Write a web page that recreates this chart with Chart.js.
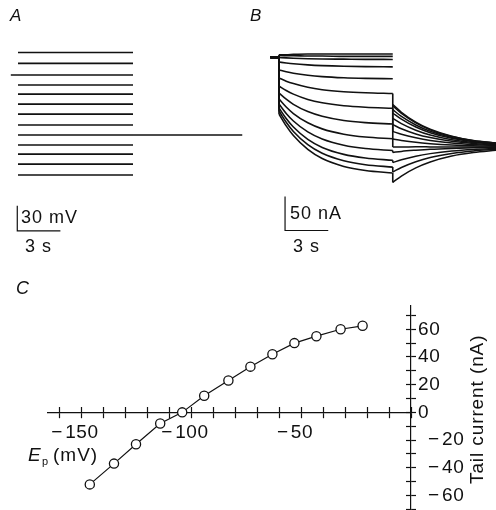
<!DOCTYPE html>
<html><head><meta charset="utf-8">
<script src="https://cdn.jsdelivr.net/npm/chart.js@4/dist/chart.umd.min.js"></script>
<style>
html,body{margin:0;padding:0;background:#fff;width:496px;height:510px;overflow:hidden;position:relative}
canvas{position:absolute;display:block}
.t{position:absolute;font-family:'Liberation Sans',Arial,Helvetica,sans-serif;color:#111;line-height:1;white-space:nowrap;margin:0}
</style></head><body>
<canvas id="cA" width="250" height="260" style="left:0;top:0"></canvas>
<canvas id="cB" width="246" height="260" style="left:250px;top:0"></canvas>
<canvas id="cC" width="496" height="280" style="left:0;top:260px"></canvas>

<div class="t" style="left:10px;top:7px;font-size:17px;font-style:italic">A</div>
<div class="t" style="left:250px;top:7px;font-size:17px;font-style:italic">B</div>
<div class="t" style="left:16px;top:279px;font-size:18px;font-style:italic">C</div>
<div class="t" style="left:21px;top:208px;font-size:18px;letter-spacing:1px">30 mV</div>
<div class="t" style="left:25px;top:237px;font-size:18px;letter-spacing:1px">3 s</div>
<div class="t" style="left:290px;top:204px;font-size:18px;letter-spacing:1px">50 nA</div>
<div class="t" style="left:293px;top:237px;font-size:18px;letter-spacing:1px">3 s</div>
<div class="t" style="left:28px;top:445px;font-size:19px;font-style:italic">E</div>
<div class="t" style="left:42px;top:456px;font-size:11px">p</div>
<div class="t" style="left:53px;top:445px;font-size:19px;letter-spacing:1px">(mV)</div>
<div class="t" style="left:467px;top:484px;font-size:19px;letter-spacing:0.9px;transform-origin:0 0;transform:rotate(-90deg)">Tail current (nA)</div>

<script>
// ---------- Panel A: voltage protocol ----------
const aPrepulseMV = [-1, -14, -28, -40, -51, -63, -75, -88, -100, -112, -123, -135, -148];
const aPrepulseStartS = [0, 0, -0.5, 0, 0, 0, 0, 0, 0, 0, 0, 0, 0];
const aPrepulseEndS = 8;
const aTestMV = -100;
const aTestEndS = 15.6;
const aBarTimeS = [-0.05, -0.05, 2.95];
const aBarMV = [-185, -215, -215];

// ---------- Panel B: current traces ----------
const bHoldStartS = -0.6;
const bHoldNA = [-5, -5, -5, -5, -5, -5, -5, -5, -5, -5, -5, -5, -5];
const bTimesStepS = [0, 0.5, 1, 2, 3, 4.5, 6, 7.9];
const bTimesTailS = [7.9, 8.5, 9.5, 10.5, 12, 13.5, 15.1];
const bStepNA = [
  [-1, -1, -0.5, 0, 0, 0, 0, 0],
  [-2, -2.5, -2.5, -3, -3, -3.5, -3.5, -3.5],
  [-5.1, -5.7, -6.2, -6.9, -7.3, -7.6, -7.9, -8],
  [-11.8, -13.2, -14.4, -16, -17.1, -18.1, -18.6, -18.9],
  [-23.5, -26.1, -28.2, -31.2, -33.2, -34.9, -35.8, -36.4],
  [-35.3, -39.9, -43.5, -49, -52.5, -55.4, -57, -58.1],
  [-47.1, -53.7, -59, -66.8, -71.8, -76.2, -78.4, -79.8],
  [-57.4, -66.5, -74, -84.7, -91.6, -97.8, -100.9, -102.9],
  [-66.2, -77.9, -87.5, -101.2, -110.1, -117.9, -122.1, -124.6],
  [-73.5, -87.4, -98.5, -114.6, -125, -134.1, -139, -141.9],
  [-79.4, -94.9, -107.4, -125.6, -137.4, -147.6, -152.9, -156.3],
  [-83.8, -100.4, -114, -133.4, -146, -157, -162.8, -166.3],
  [-88.2, -105.7, -119.9, -140.3, -153.7, -165.3, -171.3, -175]
];
const bTailNA = [
  [-74.3, -85.6, -100.1, -110.6, -120.9, -127.1, -130.9],
  [-76.5, -87.4, -101.3, -111.5, -121.3, -127.4, -131],
  [-81.8, -91.8, -104.4, -113.7, -122.8, -128.2, -131.6],
  [-86.8, -95.9, -107.4, -115.7, -124, -129, -132.1],
  [-94.7, -102.4, -112.1, -119.1, -126, -130.3, -132.8],
  [-103.8, -109.9, -117.5, -122.9, -128.4, -131.6, -133.7],
  [-113.8, -118, -123.2, -127.1, -130.9, -133.2, -134.6],
  [-125, -127.1, -129.9, -131.8, -133.8, -135, -135.6],
  [-136.8, -136.8, -136.5, -136.6, -136.8, -136.7, -136.8],
  [-144.7, -143.2, -141.5, -140.1, -138.8, -137.9, -137.5],
  [-159.7, -155.6, -150.3, -146.5, -142.6, -140.3, -139],
  [-173.5, -166.9, -158.4, -152.2, -146.2, -142.5, -140.3],
  [-188.8, -179.4, -167.4, -158.7, -150, -144.9, -141.6]
];
const bStepEndJoined = [false, false, false, false, false, true, true, true, true, true, true, true, true];
const bBarTimeS = [0.42, 0.42, 3.42];
const bBarNA = [-209.5, -259.5, -259.5];

// ---------- Panel C: tail current vs Ep ----------
const cEpMV = [-146, -135, -125, -114, -104, -94, -83, -73, -63, -53, -43, -32, -22];
const cTailNA = [-52, -37, -23, -8, 0, 12, 23, 33, 42, 50, 55, 60, 62.5];
const cXTicksLabelled = [-150, -100, -50];
const cYTicksLabelled = [-60, -40, -20, 0, 20, 40, 60];

// ---------- helpers ----------
const INK = '#111';
const FONT = "'Liberation Sans', Arial, Helvetica, sans-serif";
const pts = (xs, ys) => xs.map((x, i) => ({x, y: ys[i]}));
const line = (data, extra) => Object.assign({data, showLine: true, pointRadius: 0, borderColor: INK, borderWidth: 1.7, fill: false, tension: 0}, extra || {});
const baseOpts = (xmin, xmax, ymin, ymax) => ({
  responsive: false, animation: false, events: [],
  layout: {padding: 0},
  plugins: {legend: {display: false}, tooltip: {enabled: false}},
  scales: {
    x: {type: 'linear', display: false, min: xmin, max: xmax},
    y: {type: 'linear', display: false, min: ymin, max: ymax}
  }
});

// ---------- Chart A ----------
const dsA = [];
aPrepulseMV.forEach((v, i) => {
  dsA.push(line(pts([aPrepulseStartS[i], aPrepulseEndS], [v, v]), {borderWidth: 1.7}));
});
dsA.push(line(pts([aPrepulseEndS, aTestEndS], [aTestMV, aTestMV]), {borderWidth: 1.7}));
dsA.push(line(pts(aBarTimeS, aBarMV), {borderWidth: 1.2}));
new Chart(document.getElementById('cA'), {
  type: 'scatter',
  data: {datasets: dsA},
  options: baseOpts(-1.252, 16.139, -250, 62)
});

// ---------- Chart B ----------
const dsB = [];
bStepNA.forEach((step, k) => {
  dsB.push(line(pts([bHoldStartS, 0, 0], [bHoldNA[k], bHoldNA[k], step[0]]), {borderWidth: 1.6}));
  dsB.push(line(pts(bTimesStepS, step), {borderWidth: 1.6, cubicInterpolationMode: 'monotone'}));
  if (bStepEndJoined[k]) {
    dsB.push(line(pts([bTimesStepS[bTimesStepS.length - 1], bTimesTailS[0]], [step[step.length - 1], bTailNA[k][0]]), {borderWidth: 1.6}));
  }
  dsB.push(line(pts(bTimesTailS, bTailNA[k]), {borderWidth: 1.5, cubicInterpolationMode: 'monotone'}));
});
dsB.push(line(pts(bBarTimeS, bBarNA), {borderWidth: 1.2}));
new Chart(document.getElementById('cB'), {
  type: 'scatter',
  data: {datasets: dsB},
  options: baseOpts(-2.014, 15.069, -302.9, 79.4)
});

// ---------- Chart C ----------
const fmtX = v => '\u2212\u200A' + Math.abs(v);
const fmtY = v => v < 0 ? '\u2002\u2212\u200A' + Math.abs(v) : String(v);
const tickFont = {family: FONT, size: 19};
const spacingPlugin = {id: 'spacing', beforeDraw: c => { c.ctx.letterSpacing = '0.6px'; }};
new Chart(document.getElementById('cC'), {
  type: 'scatter',
  data: {datasets: [{
    data: pts(cEpMV, cTailNA), showLine: true, tension: 0,
    borderColor: INK, borderWidth: 1.2,
    pointRadius: 4.6, pointBorderWidth: 1.3, pointBackgroundColor: '#fff', pointBorderColor: INK,
    clip: false
  }]},
  plugins: [spacingPlugin],
  options: {
    responsive: false, animation: false, events: [],
    layout: {padding: {left: 48, right: 0, top: 46, bottom: 30}},
    plugins: {legend: {display: false}, tooltip: {enabled: false}},
    scales: {
      x: {
        type: 'linear', min: -165, max: 0, position: {y: 0},
        grid: {drawOnChartArea: false, drawTicks: true, tickLength: 5, tickColor: INK, tickWidth: 1.2},
        border: {display: true, color: INK, width: 1.2},
        ticks: {stepSize: 10, includeBounds: false, autoSkip: false, maxRotation: 0, minRotation: 0,
          padding: 4, labelOffset: -6, font: tickFont, color: INK,
          callback: v => cXTicksLabelled.includes(Math.round(v)) ? fmtX(Math.round(v)) : ''}
      },
      xUp: {
        type: 'linear', min: -165, max: 0, position: {y: 0},
        grid: {drawOnChartArea: false, drawTicks: true, tickLength: -5, tickColor: INK, tickWidth: 1.2},
        border: {display: false},
        ticks: {stepSize: 10, includeBounds: false, autoSkip: false, display: false}
      },
      y: {
        type: 'linear', min: -70.5, max: 76.8, position: 'right',
        afterFit: s => { s.width = 85; },
        grid: {drawOnChartArea: false, drawTicks: true, tickLength: 5, tickColor: INK, tickWidth: 1.2},
        border: {display: true, color: INK, width: 1.2},
        ticks: {stepSize: 10, includeBounds: false, autoSkip: false, padding: 2, font: tickFont, color: INK,
          callback: v => cYTicksLabelled.includes(Math.round(v)) ? fmtY(Math.round(v)) : ''}
      },
      yL: {
        type: 'linear', min: -70.5, max: 76.8, position: {x: 0},
        grid: {drawOnChartArea: false, drawTicks: true, tickLength: 5, tickColor: INK, tickWidth: 1.2},
        border: {display: false},
        ticks: {stepSize: 10, includeBounds: false, autoSkip: false, display: false}
      }
    }
  }
});
</script>
</body></html>
